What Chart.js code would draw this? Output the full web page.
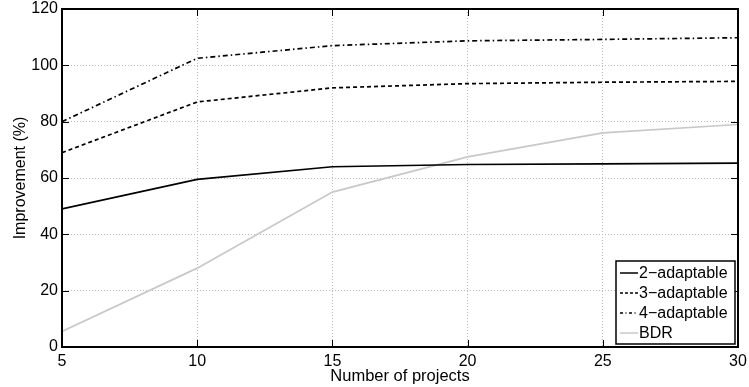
<!DOCTYPE html>
<html>
<head>
<meta charset="utf-8">
<script src="https://cdn.jsdelivr.net/npm/chart.js@4"></script>
<style>
  html, body { margin: 0; padding: 0; background: #fff; }
  #wrap { width: 749px; height: 387px; }
</style>
</head>
<body>
<div id="wrap"><canvas id="chart" width="749" height="387"></canvas></div>
<script>
const projects = [5, 10, 15, 20, 25, 30];
const adapt2 = [49, 59.5, 64, 64.8, 65, 65.3];
const adapt3 = [69, 87, 92, 93.5, 94, 94.3];
const adapt4 = [80, 102.5, 107, 108.7, 109.2, 109.8];
const bdr = [5.5, 28, 55, 67.5, 76, 79];
const yTicks = [0, 20, 40, 60, 80, 100, 120];
const xTicks = [5, 10, 15, 20, 25, 30];

const FONT = "'Liberation Sans', Arial, sans-serif";

function pts(ys) {
  return projects.map((x, i) => ({ x: x, y: ys[i] }));
}

const series = [
  { label: "2\u2212adaptable", data: adapt2, color: "#000", dash: [] },
  { label: "3\u2212adaptable", data: adapt3, color: "#000", dash: [4, 3] },
  { label: "4\u2212adaptable", data: adapt4, color: "#000", dash: [5, 3, 1.5, 3] },
  { label: "BDR", data: bdr, color: "#c8c8c8", dash: [] }
];

// box, inward ticks and legend like matlab
const framePlugin = {
  id: "frame",
  afterDraw(chart) {
    const c = chart.ctx;
    const a = chart.chartArea;
    const xs = chart.scales.x, ys = chart.scales.y;
    c.save();
    c.strokeStyle = "#000";
    c.lineWidth = 1;
    c.setLineDash([]);
    xTicks.forEach(t => {
      const px = Math.round(xs.getPixelForValue(t)) + 0.5;
      c.beginPath();
      c.moveTo(px, a.bottom); c.lineTo(px, a.bottom - 7);
      c.moveTo(px, a.top); c.lineTo(px, a.top + 7);
      c.stroke();
    });
    yTicks.forEach(t => {
      const py = Math.round(ys.getPixelForValue(t)) + 0.5;
      c.beginPath();
      c.moveTo(a.left, py); c.lineTo(a.left + 7, py);
      c.moveTo(a.right, py); c.lineTo(a.right - 7, py);
      c.stroke();
    });
    c.lineWidth = 2;
    c.strokeRect(a.left, a.top, a.right - a.left, a.bottom - a.top);

    // legend box
    const lx = 616, ly = 261, lw = 119, lh = 83;
    c.fillStyle = "#fff";
    c.fillRect(lx, ly, lw, lh);
    c.lineWidth = 1.5;
    c.strokeRect(lx, ly, lw, lh);
    c.font = "16px " + FONT;
    c.textBaseline = "middle";
    series.forEach((s, i) => {
      const yy = ly + 12 + i * 20;
      c.strokeStyle = s.color;
      c.lineWidth = 1.5;
      if (i === 1) c.setLineDash([3, 2]);
      else if (i === 2) c.setLineDash([3, 2.5, 1, 2.5]);
      else c.setLineDash([]);
      c.beginPath();
      c.moveTo(lx + 4, yy); c.lineTo(lx + 22, yy);
      c.stroke();
      c.setLineDash([]);
      c.fillStyle = "#000";
      c.fillText(s.label, lx + 23, yy + 1);
    });
    c.restore();
  }
};

new Chart(document.getElementById("chart"), {
  type: "line",
  data: {
    datasets: series.map(s => ({
      label: s.label,
      data: pts(s.data),
      borderColor: s.color,
      borderWidth: 1.7,
      borderDash: s.dash,
      pointRadius: 0,
      tension: 0,
      fill: false
    }))
  },
  options: {
    responsive: false,
    animation: false,
    layout: { padding: { top: 9, right: 11, left: 0, bottom: 0 } },
    plugins: { legend: { display: false }, tooltip: { enabled: false } },
    scales: {
      x: {
        type: "linear",
        min: 5, max: 30,
        afterBuildTicks(s) { s.ticks = xTicks.map(v => ({ value: v })); },
        afterFit(s) { s.height = 40; s.paddingLeft = 0; s.paddingRight = 0; },
        grid: { color: "#bdbdbd", drawTicks: false },
        border: { display: false, dash: [1, 2] },
        ticks: { color: "#000", font: { size: 16, family: FONT }, padding: 5, maxRotation: 0 },
        title: { display: true, text: "Number of projects", color: "#000", font: { size: 16.5, family: FONT }, padding: { top: 0, bottom: 1 } }
      },
      y: {
        min: 0, max: 120,
        afterBuildTicks(s) { s.ticks = yTicks.map(v => ({ value: v })); },
        afterFit(s) { s.width = 62; s.paddingTop = 0; s.paddingBottom = 0; },
        grid: { color: "#bdbdbd", drawTicks: false },
        border: { display: false, dash: [1, 2] },
        ticks: { color: "#000", font: { size: 16, family: FONT }, padding: 4 },
        title: { display: true, text: "Improvement (%)", color: "#000", font: { size: 16, family: FONT }, padding: { top: 11, bottom: 0 } }
      }
    }
  },
  plugins: [framePlugin]
});
</script>
</body>
</html>
